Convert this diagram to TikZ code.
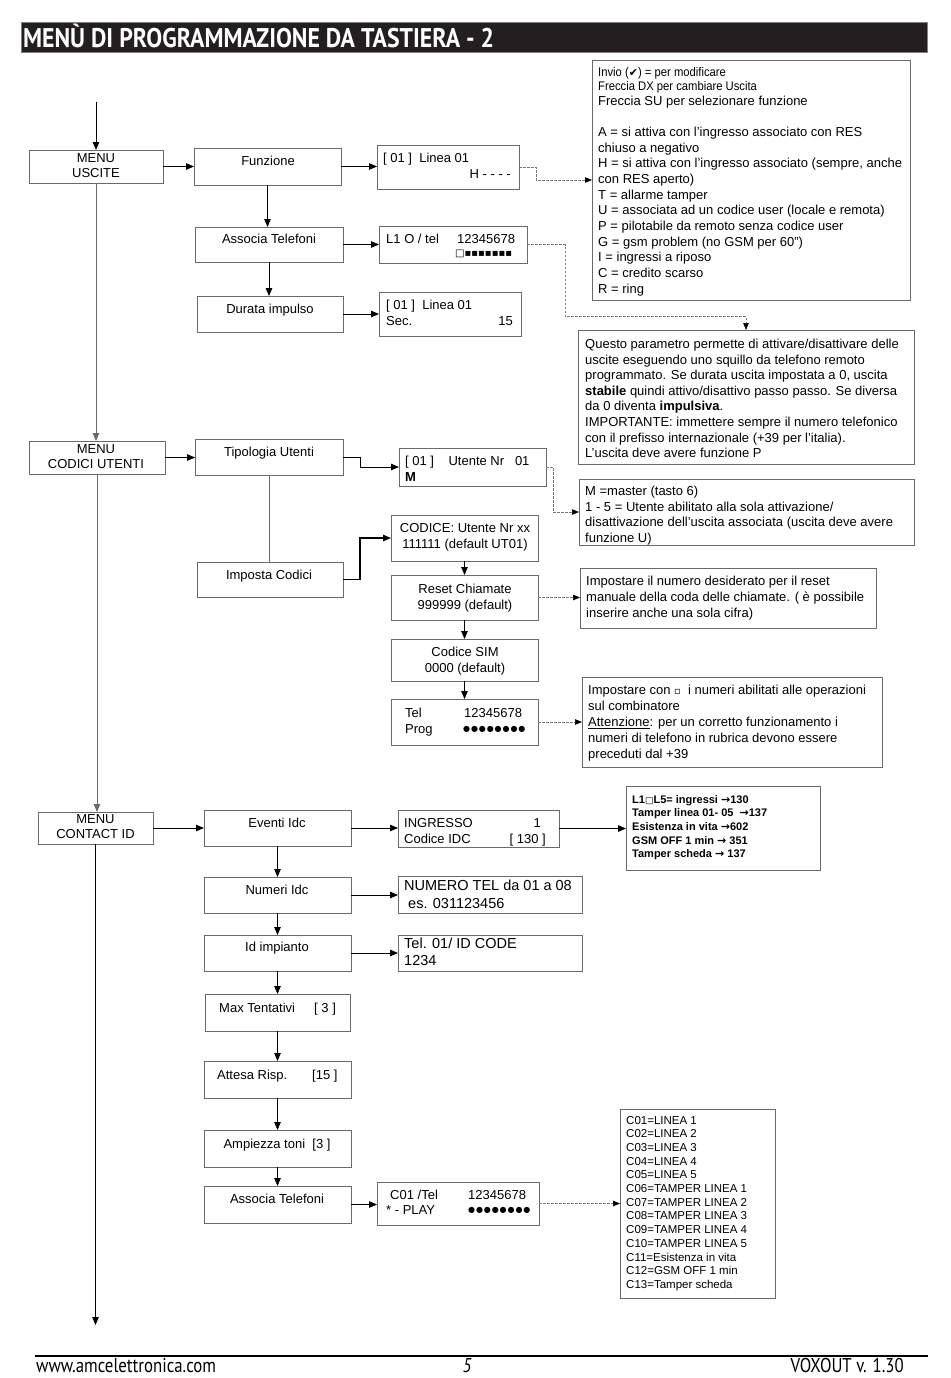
\documentclass[tikz,border=0pt]{standalone}
\usepackage{fontspec}
\setmainfont{Liberation Sans}
\newfontfamily\dv{DejaVu Sans}
\newfontfamily\narrowf[FakeStretch=0.9]{Liberation Sans}
\newfontfamily\condf[FakeStretch=0.88]{PT Sans}
\newfontfamily\footf[FakeStretch=0.84]{PT Sans}
\usetikzlibrary{arrows.meta}
\definecolor{boxgray}{HTML}{6A6A6A}
\definecolor{dashgray}{HTML}{7A7A7A}
\definecolor{titlebg}{HTML}{231F20}
\newcommand\fsa{\fontsize{13}{15.6}\selectfont}
\newcommand\bx[5]{\node[box, minimum width={(#4-#2)*1pt}, minimum height={(#5-#3)*1pt}] (#1) at (#2,#3) {};}
\newcommand\dotrow{{\dv\fontsize{8}{9}\selectfont ●\kern0.9pt●\kern0.9pt●\kern0.9pt●\kern0.9pt●\kern0.9pt●\kern0.9pt●\kern0.9pt●}}
\begin{document}
\begin{tikzpicture}[x=1pt,y=-1pt,
  box/.style={draw=boxgray, line width=0.9pt, inner sep=0pt, outer sep=0pt, anchor=north west},
  txt/.style={inner sep=0pt, anchor=base west, font=\fsa},
  ctxt/.style={inner sep=0pt, anchor=base, font=\fsa},
  rtxt/.style={inner sep=0pt, anchor=base east, font=\fsa},
  arr/.style={draw=black, line width=0.8pt, -{Triangle[length=8pt,width=6.5pt]}},
  plain/.style={draw=boxgray, line width=0.8pt},
  dsh/.style={draw=dashgray, line width=0.7pt, dash pattern=on 2.5pt off 1.5pt, -{Triangle[length=7pt,width=5.5pt,color=black]}}]
\useasboundingbox (0,0) rectangle (950,1378);
\fill[white] (0,0) rectangle (950,1378);
% title
\node[draw=gray, fill=titlebg, minimum width=906pt, minimum height=30pt, inner sep=0pt, anchor=north west] (title) at (21,22) {};
\node[inner sep=0pt, anchor=base west, text=white, font=\condf\bfseries\fontsize{27}{30}\selectfont] (titletxt) at (23,48) {MENÙ DI PROGRAMMAZIONE DA TASTIERA - 2};

% ---- MENU USCITE ----
\coordinate (start) at (96,102);
\bx{mu}{29}{150}{163}{183}
\node[ctxt] at (96,162.5) {MENU};
\node[ctxt] at (96,177.5) {USCITE};
\bx{fz}{194}{148}{341}{185}
\node[ctxt] at (268,165.5) {Funzione};
\bx{lb}{377}{145}{519}{189}
\node[txt] at (383,162.5) {[ 01 ]\ \ Linea 01};
\node[rtxt] at (511,178.5) {H - - - -};
\bx{at}{195}{227}{343}{262}
\node[ctxt] at (269,243.5) {Associa Telefoni};
\bx{lt}{379}{226}{527}{263}
\node[txt] at (386,243.5) {L1 O / tel};
\node[txt] at (457,243.5) {12345678};
\node[inner sep=0pt, anchor=west, font=\dv\fontsize{10}{11}\selectfont] at (455,253.5) {□▪▪▪▪▪▪▪};
\bx{di}{197}{296}{343}{332}
\node[ctxt] at (270,313.5) {Durata impulso};
\bx{lb2}{379}{292}{521}{336}
\node[txt] at (386,309.5) {[ 01 ]\ \ Linea 01};
\node[txt] at (386,325.5) {Sec.};
\node[rtxt] at (513,325.5) {15};

% info box 1
\bx{info}{592}{60}{910}{300}
\node[inner sep=0pt, anchor=base west, font=\narrowf\fontsize{12.5}{14}\selectfont] at (598,77) {Invio ({\dv\fontsize{11}{12}\selectfont ✔}) = per modificare};
\node[inner sep=0pt, anchor=base west, font=\narrowf\fontsize{12.5}{14}\selectfont] at (598,91) {Freccia DX per cambiare Uscita};
\node[txt] at (598,105.5) {Freccia SU per selezionare funzione};
\foreach \l [count=\i from 0] in {{A = si attiva con l’ingresso associato con RES},{chiuso a negativo},{H = si attiva con l’ingresso associato (sempre, anche},{con RES aperto)},{T = allarme tamper},{U = associata ad un codice user (locale e remota)},{P = pilotabile da remoto senza codice user},{G = gsm problem (no GSM per 60'')},{I = ingressi a riposo},{C = credito scarso},{R = ring}}
  \node[txt] at (598,136.5+15.65*\i) {\l};

% Questo box
\bx{q}{578}{330}{914}{464}
\foreach \l [count=\i from 0] in {{Questo parametro permette di attivare/disattivare delle},{uscite eseguendo uno squillo da telefono remoto},{programmato. Se durata uscita impostata a 0, uscita},{\textbf{stabile} quindi attivo/disattivo passo passo. Se diversa},{da 0 diventa \textbf{impulsiva}.},{IMPORTANTE: immettere sempre il numero telefonico},{con il prefisso internazionale (+39 per l’italia).},{L’uscita deve avere funzione P}}
  \node[txt] at (585,348.5+15.6*\i) {\l};

% ---- MENU CODICI UTENTI ----
\bx{mc}{29}{441}{165}{474}
\node[ctxt] at (96,453.5) {MENU};
\node[ctxt] at (96,468.5) {CODICI UTENTI};
\bx{tu}{195}{439}{343}{475}
\node[ctxt] at (269,456.5) {Tipologia Utenti};
\bx{ut}{399}{448}{546}{486}
\node[txt] at (405,465.5) {[ 01 ]\ \ \ \ Utente Nr\ \ \ 01};
\node[txt] at (405,481.5) {\textbf{M}};
\bx{mb}{579}{479}{914}{545}
\foreach \l [count=\i from 0] in {{M =master (tasto 6)},{1 - 5 = Utente abilitato alla sola attivazione/},{disattivazione dell’uscita associata (uscita deve avere},{funzione U)}}
  \node[txt] at (585,495.5+15.6*\i) {\l};
\bx{ic}{197}{562}{343}{597}
\node[ctxt] at (269,579.5) {Imposta Codici};
\bx{cd}{391}{515}{538}{561}
\node[ctxt] at (465,532.5) {CODICE: Utente Nr xx};
\node[ctxt] at (465,548.5) {111111 (default UT01)};
\bx{rc}{391}{575}{538}{620}
\node[ctxt] at (465,593.5) {Reset Chiamate};
\node[ctxt] at (465,609.5) {999999 (default)};
\bx{imp1}{580}{568}{876}{628}
\foreach \l [count=\i from 0] in {{Impostare il numero desiderato per il reset},{manuale della coda delle chiamate. ( è possibile},{inserire anche una sola cifra)}}
  \node[txt] at (586,585.5+16*\i) {\l};
\bx{sim}{391}{639}{538}{681}
\node[ctxt] at (465,656.5) {Codice SIM};
\node[ctxt] at (465,672.5) {0000 (default)};
\bx{tel}{391}{699}{538}{745}
\node[txt] at (405,717.5) {Tel};
\node[txt] at (464,717.5) {12345678};
\node[txt] at (405,733.5) {Prog};
\node[inner sep=0pt, anchor=west] at (463,729.5) {\dotrow};
\bx{imp2}{582}{677}{882}{767}
\foreach \l [count=\i from 0] in {{Impostare con {\dv\fontsize{10}{12}\selectfont ▫}\ \ i numeri abilitati alle operazioni},{sul combinatore},{\underline{Attenzione}: per un corretto funzionamento i},{numeri di telefono in rubrica devono essere},{preceduti dal +39}}
  \node[txt] at (588,694.5+16*\i) {\l};

% ---- MENU CONTACT ID ----
\bx{cid}{38}{812}{153}{844}
\node[ctxt] at (95.5,823.5) {MENU};
\node[ctxt] at (95.5,838.5) {CONTACT ID};
\coordinate (endpt) at (96,1325);
\bx{ev}{204}{810}{351}{846}
\node[ctxt] at (277,827.5) {Eventi Idc};
\bx{ing}{398}{810}{559}{847}
\node[txt] at (404,827.5) {INGRESSO};
\node[rtxt] at (541,827.5) {1};
\node[txt] at (404,843.5) {Codice IDC};
\node[rtxt] at (546,843.5) {[ 130 ]};
\bx{ll}{626}{786}{820}{870}
\foreach \l [count=\i from 0] in {{L1{\dv\fontsize{9}{10}\selectfont □}L5= ingressi {\dv →}130},{Tamper linea 01- 05\ \ {\dv →}137},{Esistenza in vita {\dv →}602},{GSM OFF 1 min {\dv →} 351},{Tamper scheda {\dv →} 137}}
  \node[inner sep=0pt, anchor=base west, font=\bfseries\fontsize{11}{13}\selectfont] at (632,803+13.7*\i) {\l};
\bx{ni}{204}{877}{351}{913}
\node[ctxt] at (277,894.5) {Numeri Idc};
\bx{num}{398}{876}{582}{913}
\node[inner sep=0pt, anchor=base west, font=\fontsize{14.5}{17}\selectfont] at (404,890) {NUMERO TEL da 01 a 08};
\node[inner sep=0pt, anchor=base west, font=\fontsize{14.5}{17}\selectfont] at (408,908) {es. 031123456};
\bx{idi}{204}{935}{351}{971}
\node[ctxt] at (277,951.5) {Id impianto};
\bx{tid}{398}{935}{582}{971}
\node[inner sep=0pt, anchor=base west, font=\fontsize{14.5}{17}\selectfont] at (404,948) {Tel. 01/ ID CODE};
\node[inner sep=0pt, anchor=base west, font=\fontsize{14.5}{17}\selectfont] at (404,965) {1234};
\bx{mt}{205}{994}{350}{1031}
\node[txt] at (219,1012.5) {Max Tentativi};
\node[txt] at (314,1012.5) {[ 3 ]};
\bx{ar}{204}{1061}{351}{1098}
\node[txt] at (217,1079.5) {Attesa Risp.};
\node[txt] at (312,1079.5) {[15 ]};
\bx{amp}{204}{1130}{351}{1167}
\node[ctxt] at (277,1148.5) {Ampiezza toni\ \ [3 ]};
\bx{at2}{204}{1186}{351}{1223}
\node[ctxt] at (277,1203.5) {Associa Telefoni};
\bx{c01}{377}{1182}{539}{1225}
\node[txt] at (390,1199.5) {C01 /Tel};
\node[txt] at (468,1199.5) {12345678};
\node[txt] at (386,1214.5) {* - PLAY};
\node[inner sep=0pt, anchor=west] at (468,1210.5) {\dotrow};
\bx{cl}{620}{1109}{775}{1298}
\foreach \l [count=\i from 0] in {{C01=LINEA 1},{C02=LINEA 2},{C03=LINEA 3},{C04=LINEA 4},{C05=LINEA 5},{C06=TAMPER LINEA 1},{C07=TAMPER LINEA 2},{C08=TAMPER LINEA 3},{C09=TAMPER LINEA 4},{C10=TAMPER LINEA 5},{C11=Esistenza in vita},{C12=GSM OFF 1 min},{C13=Tamper scheda}}
  \node[inner sep=0pt, anchor=base west, font=\fontsize{11.5}{13}\selectfont] at (626,1124+13.7*\i) {\l};

% ---- connectors ----
\draw[arr] (start) -- (mu.north);
\draw[arr] (mu.east) -- (fz.west);
\draw[arr] (fz.east) -- (fz.east -| lb.west);
\draw[arr] (fz.south) -- (fz.south |- at.north);
\draw[arr] (at.east) -- (at.east -| lt.west);
\draw[arr] (at.south) -- (at.south |- di.north);
\draw[arr] (di.east) -- (di.east -| lb2.west);
\draw[dsh] (lb.east) -- ++(17,0) |- (info.west);
\draw[dsh] (lt.east) -| ++(38,72) -| (q.north);
\draw[arr, draw=boxgray] (mu.south) -- (mu.south |- mc.north);
\draw[arr] (mc.east) -- (mc.east -| tu.west);
\draw[arr] (tu.east) -- ++(17,0) |- (ut.west);
\draw[dsh] (ut.east) -- ++(7,0) |- (mb.west);
\draw[plain] (tu.south) -- (tu.south |- ic.north);
\draw[arr, line width=1.3pt] (ic.east) -- ++(17,0) |- (cd.west);
\draw[arr] (cd.south) -- (rc.north);
\draw[arr] (rc.south) -- (sim.north);
\draw[arr] (sim.south) -- (tel.north);
\draw[dsh] (rc.east) -- (rc.east -| imp1.west);
\draw[dsh] (tel.east) -- (tel.east -| imp2.west);
\draw[arr, draw=boxgray] (mc.south) -- (mc.south |- cid.north);
\draw[arr] (cid.east) -- (cid.east -| ev.west);
\draw[arr] (ev.east) -- (ev.east -| ing.west);
\draw[arr, line width=1.3pt] (ing.east) -- (ing.east -| ll.west);
\draw[arr] (ev.south) -- (ev.south |- ni.north);
\draw[arr] (ni.east) -- (ni.east -| num.west);
\draw[arr] (ni.south) -- (ni.south |- idi.north);
\draw[arr] (idi.east) -- (idi.east -| tid.west);
\draw[arr] (idi.south) -- (idi.south |- mt.north);
\draw[arr] (mt.south) -- (mt.south |- ar.north);
\draw[arr] (ar.south) -- (ar.south |- amp.north);
\draw[arr] (amp.south) -- (amp.south |- at2.north);
\draw[arr] (at2.east) -- (at2.east -| c01.west);
\draw[dsh] (c01.east) -- (c01.east -| cl.west);
\draw[arr] (cid.south) -- (cid.south |- endpt);

% footer
\coordinate (fl) at (35,1356);
\coordinate (fr) at (928,1356);
\draw[line width=1.5pt] (fl) -- (fr);
\node[inner sep=0pt, anchor=base west, font=\footf\fontsize{20}{22}\selectfont] (web) at (36,1372) {www.amcelettronica.com};
\node[inner sep=0pt, anchor=base, font=\footf\itshape\fontsize{20}{22}\selectfont] (pg) at (467,1372) {5};
\node[inner sep=0pt, anchor=base east, font=\footf\fontsize{20}{22}\selectfont] (ver) at (904,1372) {VOXOUT v. 1.30};
\end{tikzpicture}
\end{document}
